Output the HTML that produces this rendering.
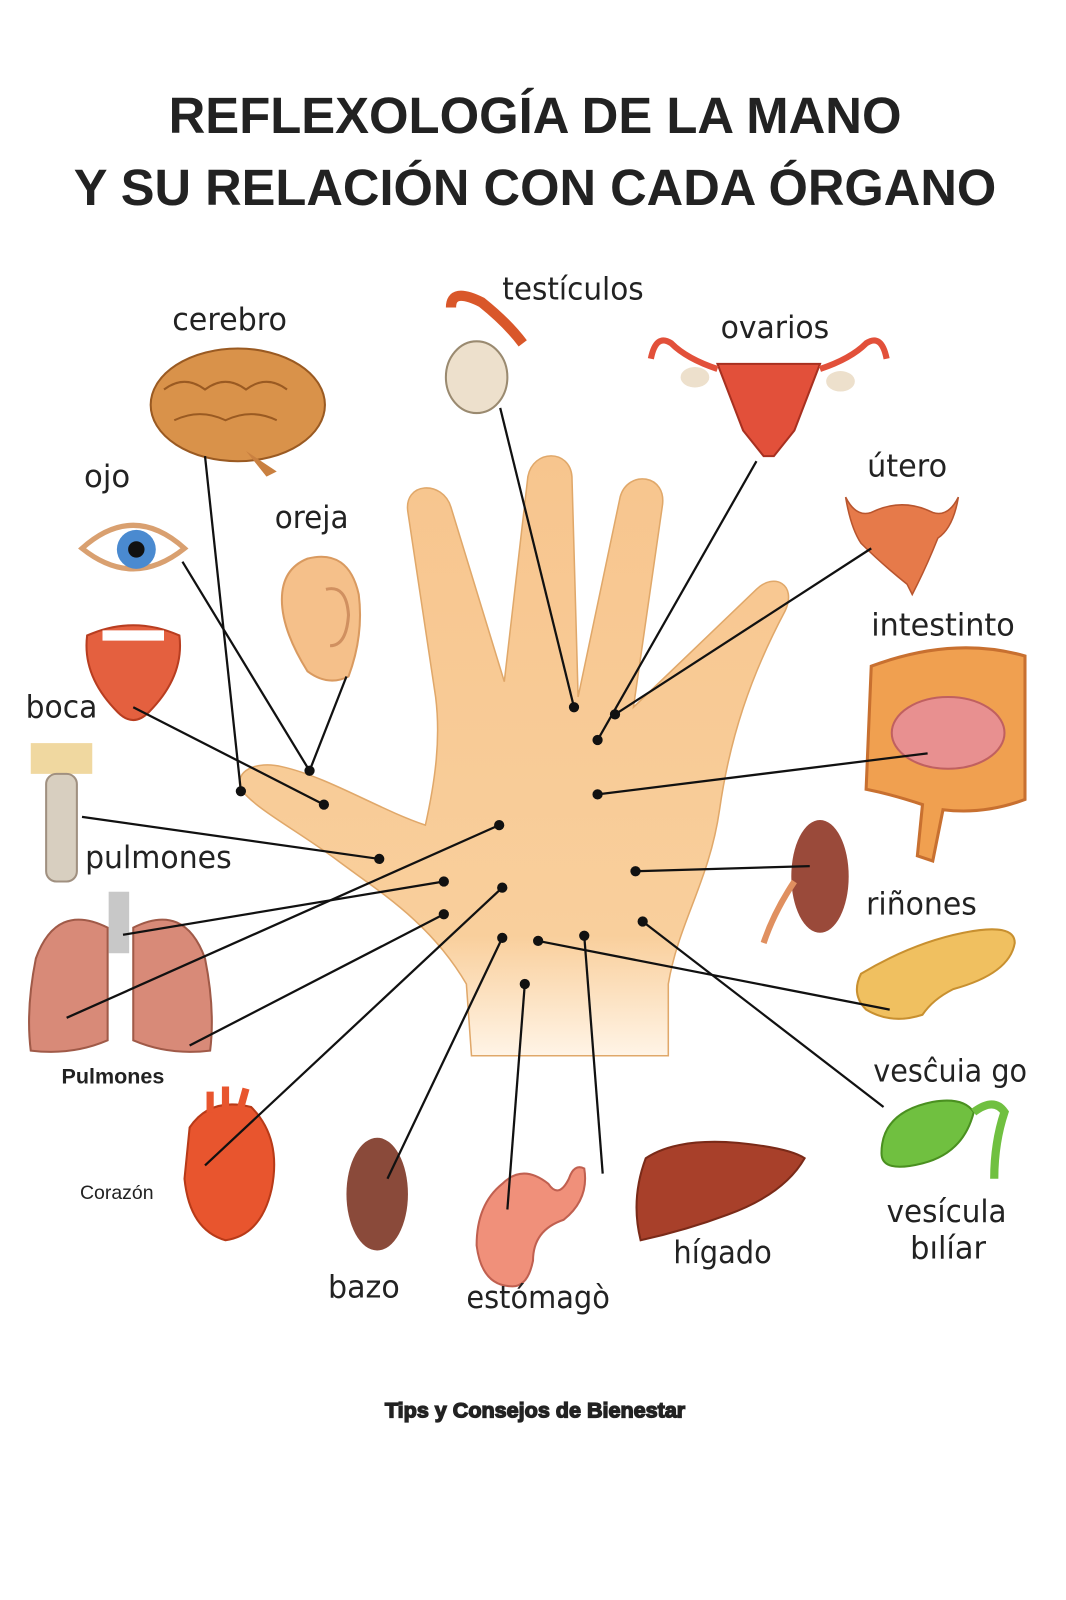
<!DOCTYPE html>
<html><head><meta charset="utf-8"><style>
html,body{margin:0;padding:0;background:#fff;}
svg{display:block}
text{font-family:"DejaVu Sans","Liberation Sans",sans-serif;fill:#222}
</style></head><body>
<svg width="1066" height="1600" viewBox="0 0 1040 1561" xmlns="http://www.w3.org/2000/svg">
<defs>
<linearGradient id="hg" x1="0" y1="0" x2="0" y2="1">
<stop offset="0" stop-color="#f7c58e"/><stop offset="0.8" stop-color="#f9cf9c"/><stop offset="1" stop-color="#fff4e6"/>
</linearGradient>
</defs>
<rect width="1040" height="1561" fill="#fff"/>
<text x="522" y="130" font-size="50" font-weight="bold" text-anchor="middle" style="font-family:'Liberation Sans',sans-serif" textLength="715" lengthAdjust="spacingAndGlyphs" fill="#000">REFLEXOLOGÍA DE LA MANO</text>
<text x="522" y="200" font-size="50" font-weight="bold" text-anchor="middle" style="font-family:'Liberation Sans',sans-serif" textLength="900" lengthAdjust="spacingAndGlyphs" fill="#000">Y SU RELACIÓN CON CADA ÓRGANO</text>

<!-- hand -->
<path d="M460,1030 L455,960 C420,900 370,870 330,840 C290,810 250,790 235,770 C228,752 250,742 275,748 C320,758 370,790 415,805 C425,760 430,720 425,680 L398,500 C393,470 432,468 440,495 L492,665 L515,465 C520,438 556,438 558,465 L564,680 L605,485 C612,458 652,462 646,495 L618,690 L738,575 C755,558 778,570 766,596 C732,660 712,720 702,790 C692,860 662,900 652,960 L652,1030 Z" fill="url(#hg)" stroke="#e0a86a" stroke-width="1.5"/>

<!-- brain -->
<ellipse cx="232" cy="395" rx="85" ry="55" fill="#d9924a" stroke="#9a5a22" stroke-width="2"/>
<path d="M160,380 q20,-15 40,0 q20,-15 40,0 q20,-15 40,0 M170,410 q25,-12 50,0 q25,-12 50,0" fill="none" stroke="#9a5a22" stroke-width="2"/>
<path d="M240,440 l20,25 l10,-5 z" fill="#c98040"/>
<!-- testicle -->
<path d="M440,300 q0,-20 30,-5 q25,20 40,40" fill="none" stroke="#d9572a" stroke-width="10"/>
<ellipse cx="465" cy="368" rx="30" ry="35" fill="#ede0cc" stroke="#9a8a70" stroke-width="2"/>
<!-- ovaries/uterus -->
<path d="M700,355 L800,355 L775,420 L755,445 L745,445 L725,420 Z" fill="#e2503a" stroke="#a83020" stroke-width="2"/>
<path d="M700,360 q-30,-10 -45,-25 q-15,-10 -20,15 M800,360 q30,-10 45,-25 q15,-10 20,15" fill="none" stroke="#e2503a" stroke-width="6"/>
<ellipse cx="678" cy="368" rx="14" ry="10" fill="#ede0cc"/><ellipse cx="820" cy="372" rx="14" ry="10" fill="#ede0cc"/>
<!-- utero -->
<path d="M825,485 q10,20 25,15 q30,-15 60,0 q15,5 25,-15 q-5,30 -20,40 q-10,25 -20,45 l-5,10 l-5,-10 q-25,-20 -45,-40 q-10,-15 -15,-45z" fill="#e67a4a" stroke="#b8552e" stroke-width="1.5"/>
<!-- eye -->
<path d="M80,535 q50,-45 100,0 q-50,40 -100,0z" fill="#fff" stroke="#d9a070" stroke-width="5"/>
<circle cx="133" cy="536" r="19" fill="#4a8ad0"/><circle cx="133" cy="536" r="8" fill="#111"/>
<!-- ear -->
<path d="M300,545 q40,-10 50,35 q5,40 -10,80 q-20,10 -40,-5 q-25,-40 -25,-70 q0,-30 25,-40z" fill="#f5c08a" stroke="#d99a60" stroke-width="2"/>
<path d="M318,575 q20,-5 22,25 q-2,30 -18,30" fill="none" stroke="#d09060" stroke-width="3"/>
<!-- mouth -->
<path d="M85,620 q45,-20 90,0 q5,40 -30,75 q-15,15 -30,0 q-35,-35 -30,-75z" fill="#e4603f" stroke="#b83d20" stroke-width="2"/>
<rect x="100" y="615" width="60" height="10" fill="#fff"/>
<!-- intestine -->
<path d="M850,650 q80,-30 150,-10 l0,140 q-40,15 -80,10 l-10,50 l-15,-5 l5,-50 q-30,-10 -55,-15 z" fill="#f0a050" stroke="#c87030" stroke-width="3"/>
<ellipse cx="925" cy="715" rx="55" ry="35" fill="#e89090" stroke="#c06060" stroke-width="2"/>
<!-- larynx -->
<rect x="30" y="725" width="60" height="30" fill="#f0d8a0"/>
<rect x="45" y="755" width="30" height="105" rx="10" fill="#d8cfc0" stroke="#a09080" stroke-width="2"/>
<!-- lungs -->
<rect x="106" y="870" width="20" height="60" fill="#c8c8c8"/>
<path d="M105,905 q-50,-25 -70,30 q-10,50 -5,90 q40,5 75,-10 z" fill="#d88a78" stroke="#a05a48" stroke-width="2"/>
<path d="M130,905 q50,-25 70,30 q10,50 5,90 q-40,5 -75,-10 z" fill="#d88a78" stroke="#a05a48" stroke-width="2"/>
<!-- kidney -->
<ellipse cx="800" cy="855" rx="28" ry="55" fill="#9a4a3a"/>
<path d="M775,860 q-20,30 -30,60" stroke="#e09060" stroke-width="6" fill="none"/>
<!-- pancreas -->
<path d="M840,950 q50,-30 100,-40 q50,-10 50,10 q-5,30 -60,45 q-20,10 -30,25 q-30,10 -55,-5 q-15,-15 -5,-35z" fill="#f0c060" stroke="#c89030" stroke-width="2"/>
<!-- gallbladder -->
<path d="M860,1125 q0,-40 50,-50 q30,-5 40,10 q-10,40 -50,50 q-40,10 -40,-10z" fill="#70c040" stroke="#4a9020" stroke-width="2"/>
<path d="M950,1085 q20,-15 30,0 q-10,30 -10,65" fill="none" stroke="#70c040" stroke-width="8"/>
<!-- heart -->
<path d="M185,1100 q20,-30 60,-20 q30,30 20,80 q-10,45 -45,50 q-35,-10 -40,-60 z" fill="#e8552e" stroke="#b83a18" stroke-width="2"/>
<path d="M205,1085 l0,-20 M220,1080 l0,-20 M235,1080 l5,-18" stroke="#e8552e" stroke-width="7"/>
<!-- spleen -->
<ellipse cx="368" cy="1165" rx="30" ry="55" fill="#8a4a3a"/>
<!-- stomach -->
<path d="M490,1155 q20,-20 45,0 q10,15 20,-5 q5,-15 15,-10 q5,30 -20,50 q-30,10 -30,40 q-5,25 -20,25 q-30,0 -35,-40 q0,-40 25,-60z" fill="#f0907a" stroke="#c06050" stroke-width="2"/>
<!-- liver -->
<path d="M630,1130 q30,-20 90,-15 q50,5 65,15 q-20,35 -75,55 q-40,15 -85,25 q-10,-40 5,-80z" fill="#a8402a" stroke="#7a2a18" stroke-width="2"/>

<g stroke="#111" stroke-width="2.2" fill="none">
<line x1="200" y1="445" x2="235" y2="772"/>
<line x1="178" y1="548" x2="302" y2="752"/>
<line x1="338" y1="660" x2="302" y2="752"/>
<line x1="130" y1="690" x2="316" y2="785"/>
<line x1="80" y1="797" x2="370" y2="838"/>
<line x1="120" y1="912" x2="433" y2="860"/>
<line x1="65" y1="993" x2="487" y2="805"/>
<line x1="185" y1="1020" x2="433" y2="892"/>
<line x1="200" y1="1137" x2="490" y2="866"/>
<line x1="378" y1="1150" x2="490" y2="915"/>
<line x1="495" y1="1180" x2="512" y2="960"/>
<line x1="525" y1="918" x2="868" y2="985"/>
<line x1="570" y1="913" x2="588" y2="1145"/>
<line x1="627" y1="899" x2="862" y2="1080"/>
<line x1="620" y1="850" x2="790" y2="845"/>
<line x1="583" y1="775" x2="905" y2="735"/>
<line x1="600" y1="697" x2="850" y2="535"/>
<line x1="583" y1="722" x2="738" y2="450"/>
<line x1="488" y1="398" x2="560" y2="690"/>
</g>
<g fill="#111">
<circle cx="235" cy="772" r="5"/><circle cx="302" cy="752" r="5"/><circle cx="316" cy="785" r="5"/>
<circle cx="370" cy="838" r="5"/><circle cx="433" cy="860" r="5"/><circle cx="487" cy="805" r="5"/>
<circle cx="433" cy="892" r="5"/><circle cx="490" cy="866" r="5"/><circle cx="490" cy="915" r="5"/>
<circle cx="512" cy="960" r="5"/><circle cx="525" cy="918" r="5"/><circle cx="570" cy="913" r="5"/>
<circle cx="627" cy="899" r="5"/><circle cx="620" cy="850" r="5"/><circle cx="583" cy="775" r="5"/>
<circle cx="600" cy="697" r="5"/><circle cx="583" cy="722" r="5"/><circle cx="560" cy="690" r="5"/>
</g>

<g font-size="30">
<text x="168" y="322" textLength="112" lengthAdjust="spacingAndGlyphs">cerebro</text>
<text x="490" y="292" textLength="138" lengthAdjust="spacingAndGlyphs">testículos</text>
<text x="703" y="330" textLength="106" lengthAdjust="spacingAndGlyphs">ovarios</text>
<text x="846" y="465" textLength="78" lengthAdjust="spacingAndGlyphs">útero</text>
<text x="82" y="475">ojo</text>
<text x="268" y="515" textLength="72" lengthAdjust="spacingAndGlyphs">oreja</text>
<text x="850" y="620" textLength="140" lengthAdjust="spacingAndGlyphs">intestinto</text>
<text x="25" y="700" textLength="70" lengthAdjust="spacingAndGlyphs">boca</text>
<text x="83" y="847" textLength="143" lengthAdjust="spacingAndGlyphs">pulmones</text>
<text x="845" y="892" textLength="108" lengthAdjust="spacingAndGlyphs">riñones</text>
<text x="852" y="1055" textLength="150" lengthAdjust="spacingAndGlyphs">vesĉuia go</text>
<text x="865" y="1192" textLength="117" lengthAdjust="spacingAndGlyphs">vesícula</text>
<text x="888" y="1228" textLength="74" lengthAdjust="spacingAndGlyphs">bılíar</text>
<text x="657" y="1232" textLength="96" lengthAdjust="spacingAndGlyphs">hígado</text>
<text x="320" y="1266" textLength="70" lengthAdjust="spacingAndGlyphs">bazo</text>
<text x="455" y="1276" textLength="140" lengthAdjust="spacingAndGlyphs">estómagò</text>
</g>
<text x="60" y="1057" font-size="21" font-weight="bold" style="font-family:'Liberation Sans',sans-serif" fill="#111">Pulmones</text>
<text x="78" y="1170" font-size="19" style="font-family:'Liberation Sans',sans-serif" fill="#111">Corazón</text>
<text x="522" y="1383" font-size="21" font-weight="bold" text-anchor="middle" textLength="293" lengthAdjust="spacingAndGlyphs" style="font-family:'Liberation Sans',sans-serif" fill="#fff" stroke="#222" stroke-width="1.3">Tips y Consejos de Bienestar</text>
</svg>
</body></html>
